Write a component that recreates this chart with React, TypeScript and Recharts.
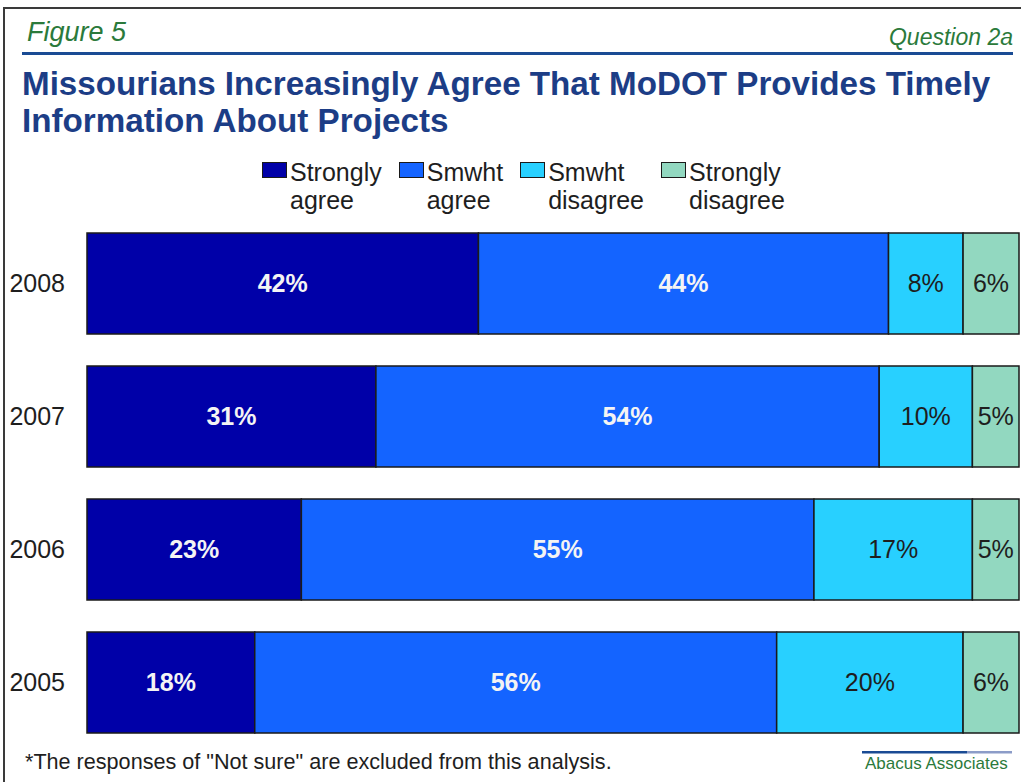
import { BarChart, Bar, XAxis, YAxis, LabelList } from "recharts";

const years = ["2008", "2007", "2006", "2005"];
const stronglyAgree = [42, 31, 23, 18];
const smwhtAgree = [44, 54, 55, 56];
const smwhtDisagree = [8, 10, 17, 20];
const stronglyDisagree = [6, 5, 5, 6];

const series = [
  { key: "sa", lines: ["Strongly", "agree"], values: stronglyAgree, color: "#0000a8", text: "#f4f4f4", bold: true },
  { key: "wa", lines: ["Smwht", "agree"], values: smwhtAgree, color: "#1464ff", text: "#f4f4f4", bold: true },
  { key: "wd", lines: ["Smwht", "disagree"], values: smwhtDisagree, color: "#28d0ff", text: "#1e1e1e", bold: false },
  { key: "sd", lines: ["Strongly", "disagree"], values: stronglyDisagree, color: "#92d8c0", text: "#1e1e1e", bold: false },
];

const data = years.map((year, i) => {
  const row: Record<string, string | number> = { year };
  series.forEach((s) => {
    row[s.key] = s.values[i];
  });
  return row;
});

const FONT = '"Liberation Sans", Arial, sans-serif';

export default function App() {
  return (
    <div
      style={{
        position: "absolute",
        left: 0,
        top: 0,
        width: 1021,
        height: 782,
        background: "#fff",
        fontFamily: FONT,
        overflow: "hidden",
      }}
    >
      <div style={{ position: "absolute", left: 0, top: 0 }}>
        <BarChart
          layout="vertical"
          width={1021}
          height={782}
          data={data}
          margin={{ top: 217, right: 2, bottom: 33, left: 0 }}
          barCategoryGap={16}
        >
          <XAxis type="number" domain={[0, 100]} hide />
          <YAxis
            type="category"
            dataKey="year"
            width={87}
            axisLine={false}
            tickLine={false}
            tickMargin={16}
            tick={{ fill: "#1e1e1e", fontSize: 25, fontFamily: FONT }}
          />
          {series.map((s) => (
            <Bar
              key={s.key}
              dataKey={s.key}
              stackId="a"
              fill={s.color}
              stroke="#1a1a1a"
              strokeWidth={1.5}
              isAnimationActive={false}
            >
              <LabelList
                dataKey={s.key}
                position="center"
                formatter={(v: number) => `${v}%`}
                fill={s.text}
                fontSize={25}
                fontWeight={s.bold ? "bold" : "normal"}
                fontFamily={FONT}
              />
            </Bar>
          ))}
        </BarChart>
      </div>

      <svg
        width={1021}
        height={782}
        style={{ position: "absolute", left: 0, top: 0, pointerEvents: "none" }}
      >
        {/* frame */}
        <line x1={3} y1={8} x2={1021} y2={8} stroke="#3a3a3a" strokeWidth={2} />
        <line x1={4} y1={8} x2={4} y2={782} stroke="#3a3a3a" strokeWidth={2} />

        <text x={27} y={41} fill="#2b7a3b" fontSize={27} fontStyle="italic" fontFamily={FONT}>
          Figure 5
        </text>
        <text x={1013} y={45} fill="#2b7a3b" fontSize={23} fontStyle="italic" textAnchor="end" fontFamily={FONT}>
          Question 2a
        </text>
        <rect x={22} y={52} width={991} height={3} fill="#1a4b94" />

        <text x={22} y={95} fill="#1c3d86" fontSize={33.2} fontWeight="bold" fontFamily={FONT}>
          Missourians Increasingly Agree That MoDOT Provides Timely
        </text>
        <text x={22} y={132} fill="#1c3d86" fontSize={33.2} fontWeight="bold" fontFamily={FONT}>
          Information About Projects
        </text>

        <text x={25} y={769} fill="#1e1e1e" fontSize={21.6} fontFamily={FONT}>
          *The responses of "Not sure" are excluded from this analysis.
        </text>
        <rect x={862} y={751} width={105} height={2.5} fill="#1a4b94" />
        <rect x={967} y={751} width={45} height={2.5} fill="#8c9cc8" />
        <text x={865} y={769} fill="#2b7a3b" fontSize={17} fontFamily={FONT}>
          Abacus Associates
        </text>
      </svg>

      {/* legend */}
      <div
        style={{
          position: "absolute",
          left: 262,
          top: 158,
          display: "flex",
          gap: 17,
          fontSize: 25,
          lineHeight: "28px",
          color: "#1e1e1e",
        }}
      >
        {series.map((s) => (
          <div key={s.key} style={{ display: "flex", alignItems: "flex-start" }}>
            <div
              style={{
                width: 23,
                height: 14,
                marginTop: 4,
                marginRight: 3,
                background: s.color,
                border: "1px solid #1a1a1a",
              }}
            />
            <div style={{ textAlign: "left" }}>
              {s.lines.map((l) => (
                <div key={l}>{l}</div>
              ))}
            </div>
          </div>
        ))}
      </div>
    </div>
  );
}
